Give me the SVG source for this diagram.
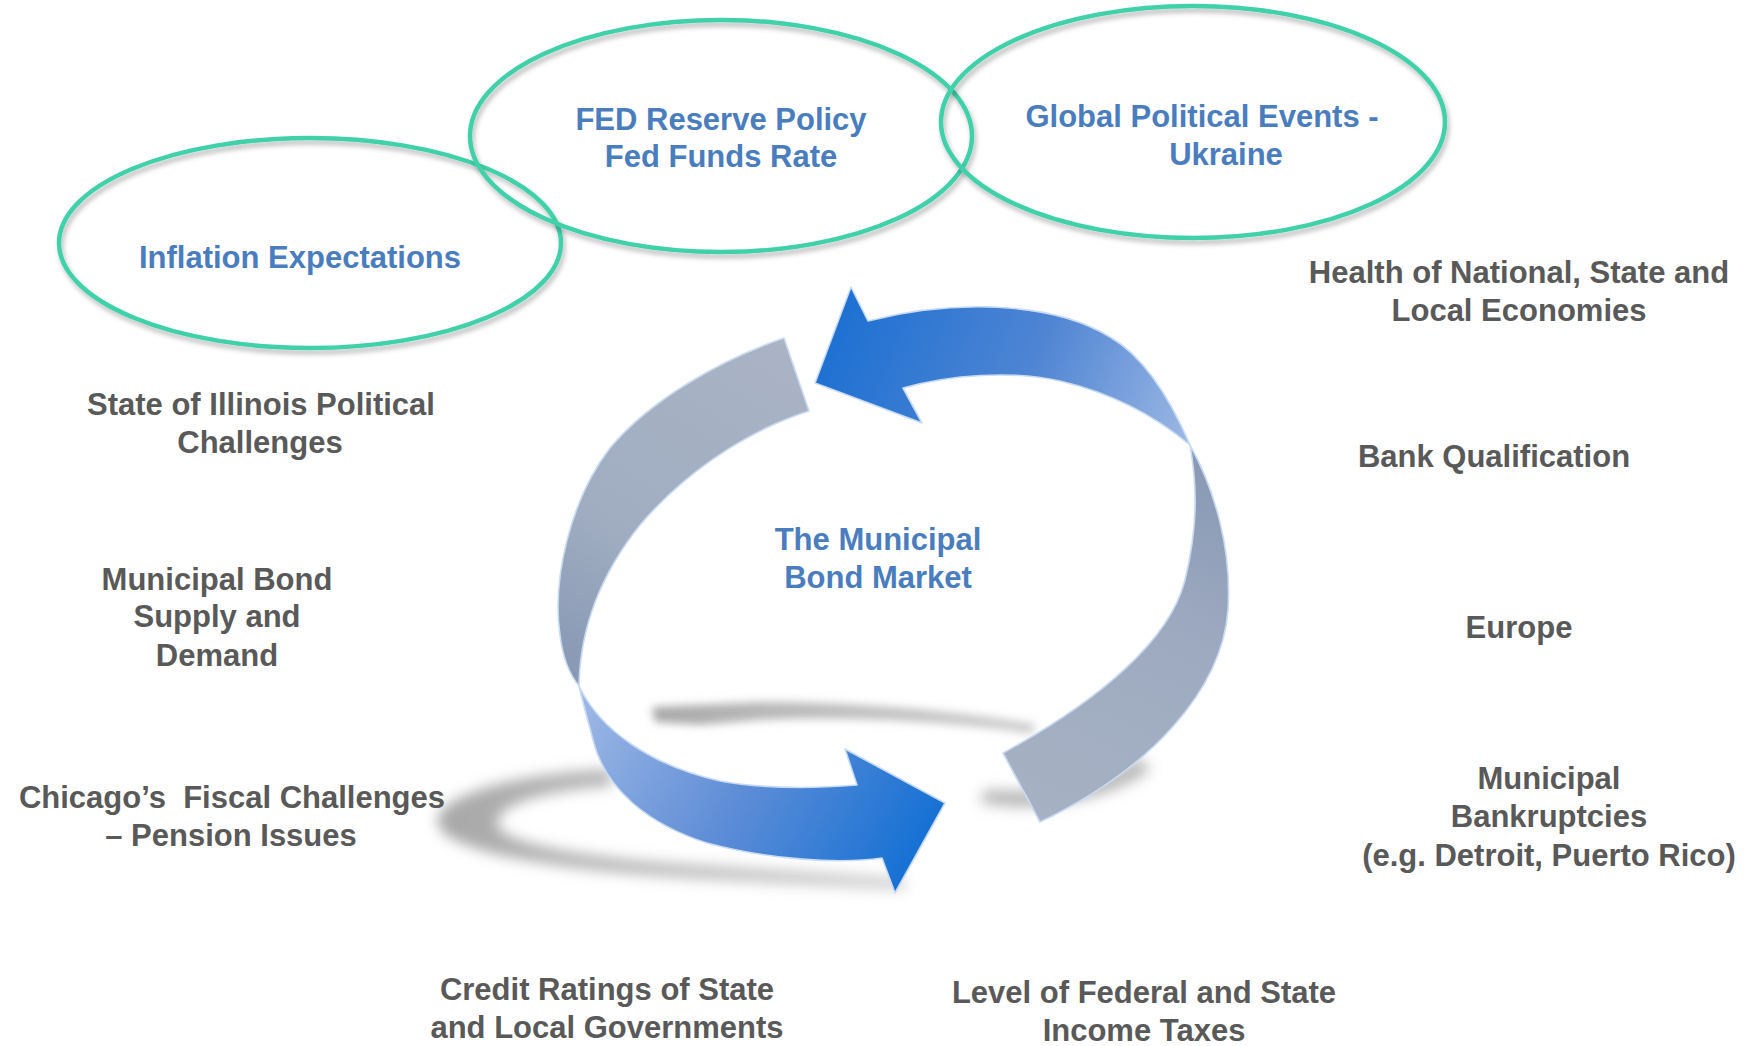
<svg xmlns="http://www.w3.org/2000/svg" width="1751" height="1046" viewBox="0 0 1751 1046">
<style>
.t{font-family:"Liberation Sans",Arial,sans-serif;font-weight:bold;font-size:31px;text-anchor:middle}
.b{fill:#4A7DBE}
.g{fill:#595959}
.ring{fill:none;stroke:#40D0AA;stroke-width:4.5;filter:url(#ds)}
.band{stroke:#C8DBF2;stroke-width:1.6;stroke-linejoin:round}
</style>
<defs>
<filter id="ds" x="-10%" y="-10%" width="120%" height="130%">
<feDropShadow dx="2" dy="4" stdDeviation="2.5" flood-color="#000" flood-opacity="0.28"/>
</filter>
<filter id="blur" x="-20%" y="-50%" width="140%" height="200%">
<feGaussianBlur stdDeviation="7"/>
</filter>
<filter id="blur2" x="-20%" y="-50%" width="140%" height="200%">
<feGaussianBlur stdDeviation="4.5"/>
</filter>
<linearGradient id="shL" gradientUnits="userSpaceOnUse" x1="440" y1="0" x2="905" y2="0">
<stop offset="0" stop-color="#A8A8A8"/>
<stop offset="0.4" stop-color="#B8B8B8"/>
<stop offset="1" stop-color="#D2D2D2"/>
</linearGradient>
<linearGradient id="shU" gradientUnits="userSpaceOnUse" x1="650" y1="0" x2="1036" y2="0">
<stop offset="0" stop-color="#A8A8A8"/>
<stop offset="0.3" stop-color="#B8B8B8"/>
<stop offset="1" stop-color="#D0D0D0"/>
</linearGradient>
<linearGradient id="gTop" gradientUnits="userSpaceOnUse" x1="830" y1="300" x2="1190" y2="445">
<stop offset="0" stop-color="#1A6FD2"/>
<stop offset="0.55" stop-color="#4F85D3"/>
<stop offset="1" stop-color="#9DB8E4"/>
</linearGradient>
<linearGradient id="gBot" gradientUnits="userSpaceOnUse" x1="580" y1="690" x2="910" y2="880">
<stop offset="0" stop-color="#9FB9E5"/>
<stop offset="0.5" stop-color="#5E8DD6"/>
<stop offset="1" stop-color="#1370D4"/>
</linearGradient>
<linearGradient id="gLeft" gradientUnits="userSpaceOnUse" x1="790" y1="360" x2="575" y2="690">
<stop offset="0" stop-color="#A9B3C4"/>
<stop offset="0.6" stop-color="#A0ADC1"/>
<stop offset="1" stop-color="#8797B3"/>
</linearGradient>
<linearGradient id="gRight" gradientUnits="userSpaceOnUse" x1="1195" y1="450" x2="1030" y2="810">
<stop offset="0" stop-color="#8898B4"/>
<stop offset="0.45" stop-color="#9EAAC0"/>
<stop offset="1" stop-color="#A6B1C3"/>
</linearGradient>
</defs>
<rect width="1751" height="1046" fill="#FFFFFF"/>

<g id="shadows">
<path d="M652,707 L760,702 C850,702 950,709 1036,724 L1032,734 C950,722 850,716 760,720 L700,725 L655,722 Z" fill="url(#shU)" filter="url(#blur2)"/>
<path d="M612,769 C500,774 432,800 438,824 C445,852 560,872 720,880 L905,890 L905,878 L720,866 C600,860 505,845 498,826 C493,806 540,791 612,786 Z" fill="url(#shL)" filter="url(#blur)"/>
<path d="M980,802 C1040,815 1110,798 1150,770 L1140,758 C1100,782 1050,795 985,790 Z" fill="#B4B4B4" filter="url(#blur)"/>
</g>

<g id="connectors">
<path id="arrow-left-band" class="band" fill="url(#gLeft)" d="M784,338 C720,360 650,400 610,448 C570,500 552,580 560,635 C563,660 570,675 579,686 C580,630 600,575 640,525 C680,478 740,433 809,411 Z"/>
<path id="arrow-bottom" class="band" fill="url(#gBot)" d="M579,686 C600,730 650,765 720,781 C770,790 820,788 857,785 L845,749 L945,803 L895,893 L882,858 C840,864 770,860 707,843 C650,825 605,790 593,740 C588,720 582,700 579,686 Z"/>
<path id="arrow-right-band" class="band" fill="url(#gRight)" d="M1190,445 C1215,490 1232,550 1228,610 C1222,690 1150,770 1040,822 L1003,753 C1100,700 1170,640 1185,580 C1197,530 1198,490 1190,445 Z"/>
<path id="arrow-top" class="band" fill="url(#gTop)" d="M815,383 L851,287 L868,321 C950,300 1050,300 1110,337 C1150,360 1175,410 1190,445 C1160,420 1120,395 1060,381 C1010,370 950,375 903,388 L922,423 Z"/>
</g>

<g id="node-inflation">
<ellipse class="ring" cx="310" cy="243" rx="251" ry="105"/>
<text class="t b" x="300" y="268">Inflation Expectations</text>
</g>
<g id="node-fed">
<ellipse class="ring" cx="721" cy="136" rx="251" ry="116"/>
<text class="t b" x="721" y="130">FED Reserve Policy</text>
<text class="t b" x="721" y="167">Fed Funds Rate</text>
</g>
<g id="node-global">
<ellipse class="ring" cx="1193" cy="122" rx="252" ry="116"/>
<text class="t b" x="1202" y="127">Global Political Events -</text>
<text class="t b" x="1226" y="165">Ukraine</text>
</g>

<g id="node-center">
<text class="t b" x="878" y="550">The Municipal</text>
<text class="t b" x="878" y="588">Bond Market</text>
</g>

<g id="node-health">
<text class="t g" x="1519" y="283">Health of National, State and</text>
<text class="t g" x="1519" y="321">Local Economies</text>
</g>
<g id="node-bank">
<text class="t g" x="1494" y="467">Bank Qualification</text>
</g>
<g id="node-europe">
<text class="t g" x="1519" y="638">Europe</text>
</g>
<g id="node-bankruptcies">
<text class="t g" x="1549" y="789">Municipal</text>
<text class="t g" x="1549" y="827">Bankruptcies</text>
<text class="t g" x="1549" y="866">(e.g. Detroit, Puerto Rico)</text>
</g>
<g id="node-taxes">
<text class="t g" x="1144" y="1003">Level of Federal and State</text>
<text class="t g" x="1144" y="1041">Income Taxes</text>
</g>
<g id="node-credit">
<text class="t g" x="607" y="1000">Credit Ratings of State</text>
<text class="t g" x="607" y="1038">and Local Governments</text>
</g>
<g id="node-chicago">
<text class="t g" x="232" y="808" xml:space="preserve">Chicago’s  Fiscal Challenges</text>
<text class="t g" x="231" y="846">– Pension Issues</text>
</g>
<g id="node-supply">
<text class="t g" x="217" y="590">Municipal Bond</text>
<text class="t g" x="217" y="627">Supply and</text>
<text class="t g" x="217" y="666">Demand</text>
</g>
<g id="node-illinois">
<text class="t g" x="261" y="415">State of Illinois Political</text>
<text class="t g" x="260" y="453">Challenges</text>
</g>
</svg>
